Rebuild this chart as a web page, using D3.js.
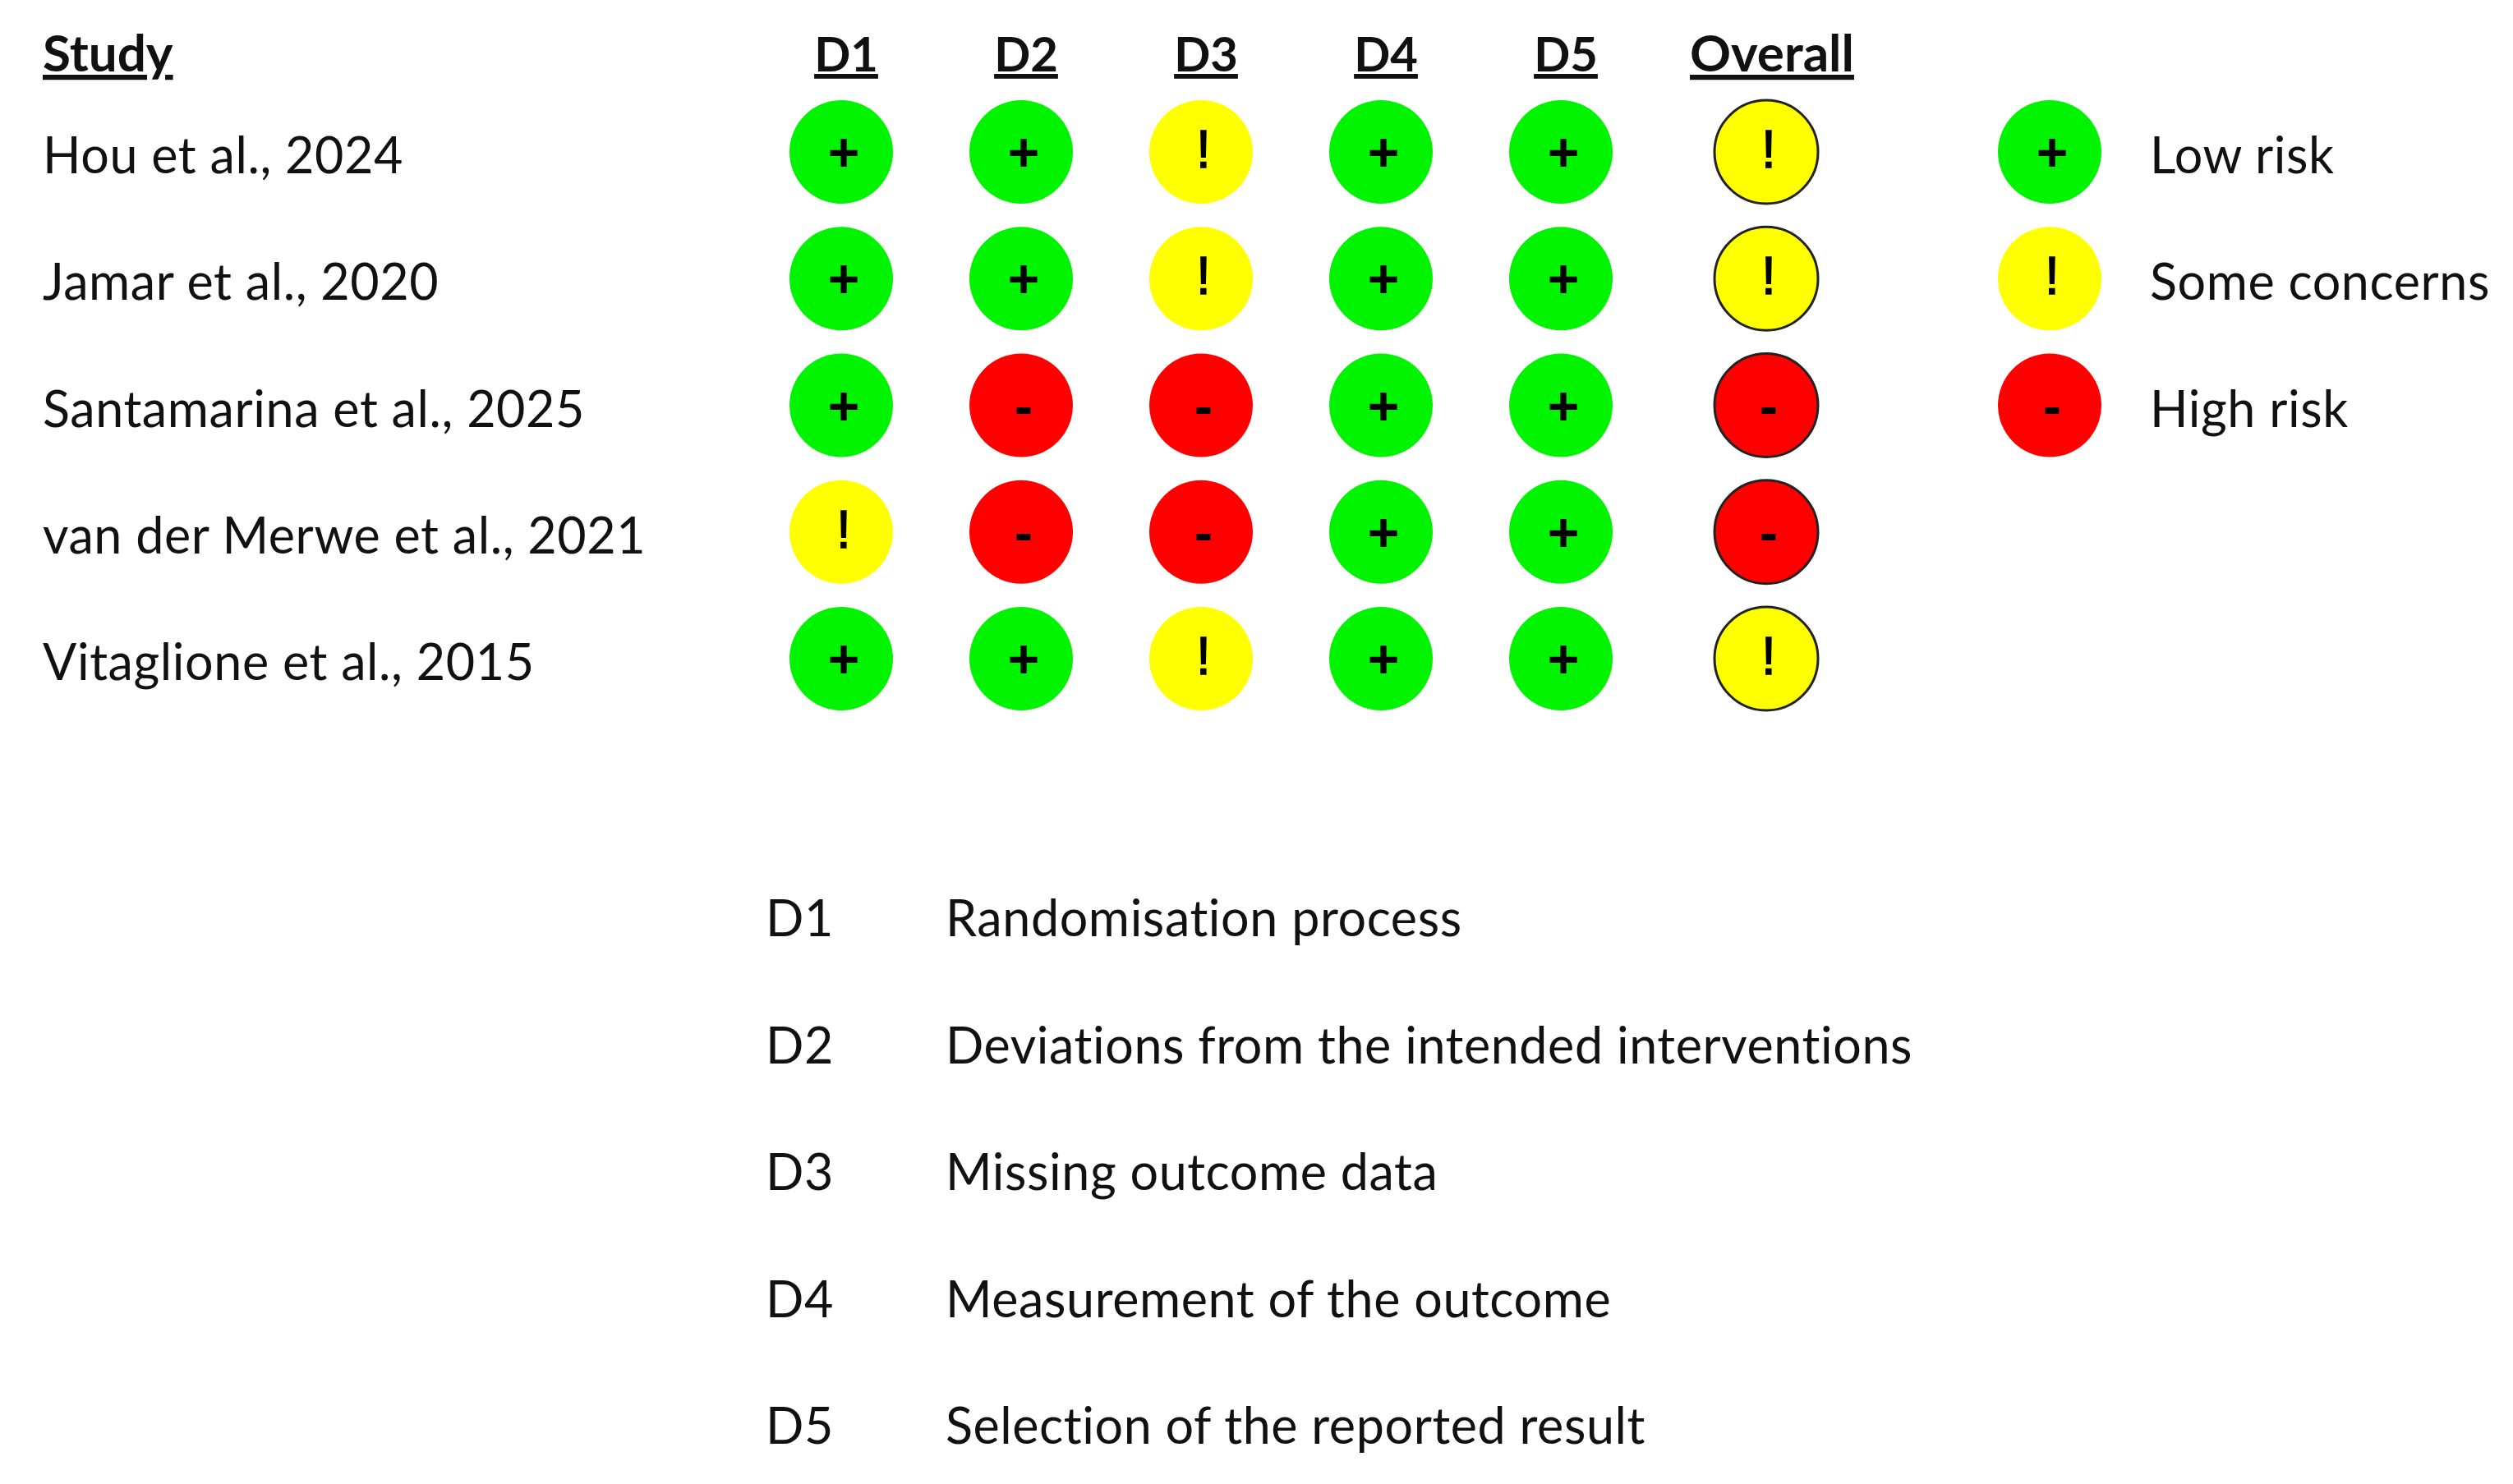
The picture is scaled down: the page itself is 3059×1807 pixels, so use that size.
<!DOCTYPE html>
<html>
<head>
    <title>Risk of bias</title>
    <script src="https://d3js.org/d3.v7.min.js"></script>
    <style>
        body { margin: 0; background: #fff; }
        text { font-family: Lato, sans-serif; fill: #111; font-variant-ligatures: none; }
        .body-text { font-size: 61px; letter-spacing: 0.6px; }
        .head-text { font-size: 62px; font-weight: bold; text-decoration: underline; }
    </style>
</head>
<body>
    <svg id="chart"></svg>
    <script>
        const studies = ["Hou et al., 2024", "Jamar et al., 2020", "Santamarina et al., 2025", "van der Merwe et al., 2021", "Vitaglione et al., 2015"];
        const domains = ["D1", "D2", "D3", "D4", "D5"];
        const d1 = ["low", "low", "low", "some", "low"];
        const d2 = ["low", "low", "high", "high", "low"];
        const d3v = ["some", "some", "high", "high", "some"];
        const d4 = ["low", "low", "low", "low", "low"];
        const d5 = ["low", "low", "low", "low", "low"];
        const overall = ["some", "some", "high", "high", "some"];
        const levels = ["low", "some", "high"];
        const levelLabels = ["Low risk", "Some concerns", "High risk"];
        const levelColors = ["#00f400", "#ffff00", "#ff0000"];
        const levelSymbols = ["+", "!", "-"];
        const domainNames = ["Randomisation process", "Deviations from the intended interventions", "Missing outcome data", "Measurement of the outcome", "Selection of the reported result"];

        const svgWidth = 3059;
        const svgHeight = 1807;
        const radius = 63;

        const svg = d3.select("#chart")
            .attr("width", svgWidth)
            .attr("height", svgHeight)
            .style("display", "block");

        const color = d3.scaleOrdinal().domain(levels).range(levelColors);
        const symbol = d3.scaleOrdinal().domain(levels).range(levelSymbols);

        // columns D1..D5 are evenly spaced, Overall sits further right
        const x = d3.scalePoint().domain(domains).range([1024, 1900]);
        const xOverall = 2150;
        const xLegend = 2495;
        const y = d3.scalePoint().domain(d3.range(5)).range([185, 802]);
        const yList = d3.scalePoint().domain(d3.range(5)).range([1140, 1758]);

        function drawMark(g, cx, cy, level, outlined) {
            g.append("circle")
                .attr("cx", cx)
                .attr("cy", cy)
                .attr("r", radius)
                .attr("fill", color(level))
                .attr("stroke", outlined ? "#222" : "none")
                .attr("stroke-width", outlined ? 3 : 0);
            // the ! is thinner and taller than the other two signs
            const isBang = level === "some";
            g.append("text")
                .attr("x", cx + 3)
                .attr("y", cy + (isBang ? 19 : 23))
                .attr("text-anchor", "middle")
                .style("font-family", "'Liberation Sans'")
                .style("font-weight", isBang ? "normal" : "bold")
                .style("font-size", isBang ? "64px" : "66px")
                .style("fill", "#000")
                .style("stroke", isBang ? "#000" : "none")
                .style("stroke-width", isBang ? 1.5 : 0)
                .text(symbol(level));
        }

        // header row
        svg.append("text")
            .attr("class", "head-text")
            .attr("x", 52).attr("y", 87)
            .text("Study");

        svg.selectAll(".domain-head")
            .data(domains)
            .join("text")
            .attr("class", "domain-head head-text")
            .attr("x", d => x(d) + 6)
            .attr("y", 87)
            .attr("text-anchor", "middle")
            .style("font-size", "58px")
            .text(d => d);

        svg.append("text")
            .attr("class", "head-text")
            .attr("x", xOverall + 7).attr("y", 87)
            .attr("text-anchor", "middle")
            .text("Overall");

        // study names and judgement circles
        const columns = [d1, d2, d3v, d4, d5];
        studies.forEach((name, i) => {
            svg.append("text")
                .attr("class", "body-text")
                .attr("x", 52)
                .attr("y", y(i) + 26)
                .text(name);
            domains.forEach((dom, j) => drawMark(svg, x(dom), y(i), columns[j][i], false));
            drawMark(svg, xOverall, y(i), overall[i], true);
        });

        // legend
        levels.forEach((level, i) => {
            drawMark(svg, xLegend, y(i), level, false);
            svg.append("text")
                .attr("class", "body-text")
                .attr("x", 2617)
                .attr("y", y(i) + 26)
                .text(levelLabels[i]);
        });

        // domain key
        domains.forEach((dom, i) => {
            svg.append("text")
                .attr("class", "body-text")
                .attr("x", 932)
                .attr("y", yList(i))
                .text(dom);
            svg.append("text")
                .attr("class", "body-text")
                .attr("x", 1151)
                .attr("y", yList(i))
                .text(domainNames[i]);
        });
    </script>
</body>
</html>
